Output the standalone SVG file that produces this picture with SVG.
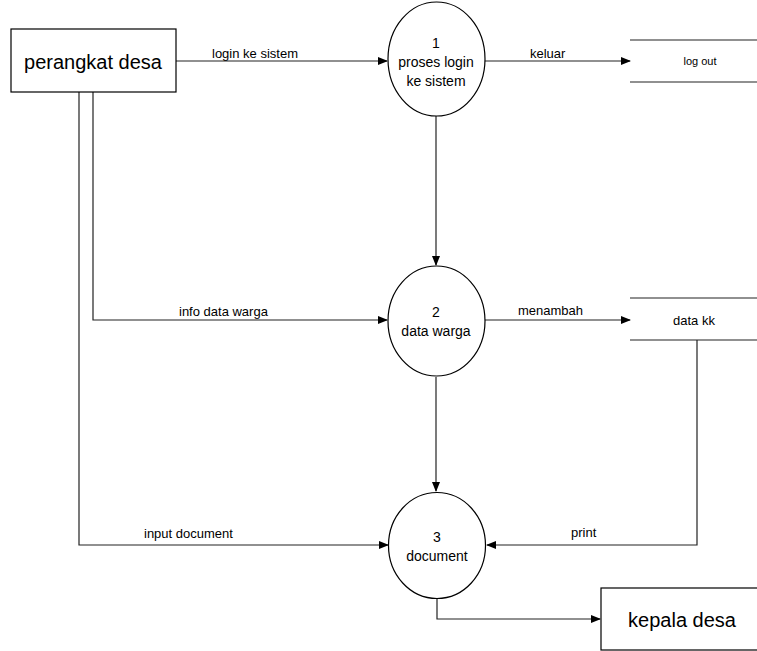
<svg xmlns="http://www.w3.org/2000/svg" width="757" height="651" viewBox="0 0 757 651">
<style>
  .box { fill: #fff; stroke: #000; stroke-width: 1.2; }
  .proc { fill: #fff; stroke: #000; stroke-width: 1.2; }
  .line { fill: none; stroke: #222; stroke-width: 1.2; }
  .store { stroke: #222; stroke-width: 1.2; }
  text { font-family: "Liberation Sans", Arial, sans-serif; fill: #000; }
  .big { font-size: 20px; text-anchor: middle; }
  .ptxt { font-size: 14px; text-anchor: middle; }
  .lbl { font-size: 13px; }
</style>
<defs>
  <marker id="arr" markerWidth="10" markerHeight="8" refX="9" refY="4" orient="auto" markerUnits="userSpaceOnUse">
    <path d="M0,0 L10,4 L0,8 Z" fill="#000"/>
  </marker>
</defs>
<rect width="757" height="651" fill="#fff"/>

<g id="connectors">
  <path class="line" d="M176,61 H387" marker-end="url(#arr)"/>
  <path class="line" d="M485,61 H630" marker-end="url(#arr)"/>
  <path class="line" d="M436,116 V265" marker-end="url(#arr)"/>
  <path class="line" d="M93,92 V320 H387" marker-end="url(#arr)"/>
  <path class="line" d="M485,320 H630" marker-end="url(#arr)"/>
  <path class="line" d="M436,377 V491" marker-end="url(#arr)"/>
  <path class="line" d="M79,92 V545 H388" marker-end="url(#arr)"/>
  <path class="line" d="M697,340 V545 H487" marker-end="url(#arr)"/>
  <path class="line" d="M437,598 V619 H600" marker-end="url(#arr)"/>
  <text class="lbl" x="212" y="58">login ke sistem</text>
  <text class="lbl" x="530" y="58">keluar</text>
  <text class="lbl" x="179" y="316">info data warga</text>
  <text class="lbl" x="518" y="315">menambah</text>
  <text class="lbl" x="144" y="538">input document</text>
  <text class="lbl" x="571" y="537">print</text>
</g>

<g id="perangkat-desa">
  <rect class="box" x="11" y="29" width="165" height="63"/>
  <text class="big" x="93" y="69">perangkat desa</text>
</g>

<g id="proses-1">
  <ellipse class="proc" cx="436.5" cy="59" rx="48.5" ry="57"/>
  <text class="ptxt" x="436" y="48">1</text>
  <text class="ptxt" x="436" y="67">proses login</text>
  <text class="ptxt" x="436" y="86">ke sistem</text>
</g>

<g id="log-out">
  <line class="store" x1="630" y1="40" x2="757" y2="40"/>
  <line class="store" x1="630" y1="82" x2="757" y2="82"/>
  <text x="700" y="65" font-size="11" text-anchor="middle">log out</text>
</g>

<g id="proses-2">
  <ellipse class="proc" cx="436.5" cy="321" rx="48.5" ry="55"/>
  <text class="ptxt" x="436" y="317">2</text>
  <text class="ptxt" x="436" y="336">data warga</text>
</g>

<g id="data-kk">
  <line class="store" x1="630" y1="298" x2="757" y2="298"/>
  <line class="store" x1="630" y1="340" x2="757" y2="340"/>
  <text x="694" y="325" font-size="13" text-anchor="middle">data kk</text>
</g>

<g id="proses-3">
  <ellipse class="proc" cx="437" cy="545.5" rx="48.5" ry="53"/>
  <text class="ptxt" x="437" y="542">3</text>
  <text class="ptxt" x="437" y="561">document</text>
</g>

<g id="kepala-desa">
  <rect class="box" x="601" y="588" width="160" height="62"/>
  <text class="big" x="682" y="627" font-size="19">kepala desa</text>
</g>
</svg>
